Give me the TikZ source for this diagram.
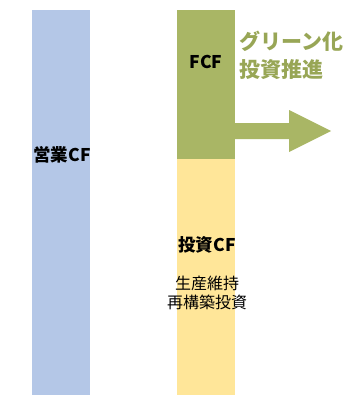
\documentclass[tikz,border=0pt]{standalone}
\usepackage{fontspec}
\setmainfont{Noto Sans CJK JP}
\definecolor{cfblue}{HTML}{B4C7E7}
\definecolor{cfgreen}{HTML}{A9B665}
\definecolor{cfyellow}{HTML}{FFE699}
\definecolor{cftext}{HTML}{98A656}
\begin{document}
\begin{tikzpicture}[x=1pt,y=-1pt,
  bar/.style={draw=none,inner sep=0pt,minimum width=58pt,anchor=north west},
  lbl/.style={font=\bfseries\fontsize{17.5}{20}\selectfont,inner sep=0pt,text=black},
  sub/.style={font=\fontsize{16}{19}\selectfont,inner sep=0pt,align=center,text=black}]
\useasboundingbox (0,0) rectangle (343,396);
\node[bar,fill=cfblue,minimum height=385pt] (op) at (32,10) {};
\node[bar,fill=cfgreen,minimum height=149pt] (fcf) at (177,10) {};
\node[bar,fill=cfyellow,minimum height=236pt] (inv) at (177,159) {};
\fill[cfgreen] (235,123) -- (289,123) -- (289,110) -- (331,131) -- (289,152) -- (289,139) -- (235,139) -- cycle;
\node[lbl] (opl) at (62,155) {営業CF};
\node[lbl] (fcfl) at (206,62) {FCF};
\node[lbl] (invl) at (207,245) {投資CF};
\node[sub] (invs) at (207,293) {生産維持\\再構築投資};
\node[font=\bfseries\fontsize{21}{28}\selectfont,text=cftext,align=left,anchor=north west,inner sep=0pt] (gr) at (239,31) {グリーン化\\投資推進};
\end{tikzpicture}
\end{document}
